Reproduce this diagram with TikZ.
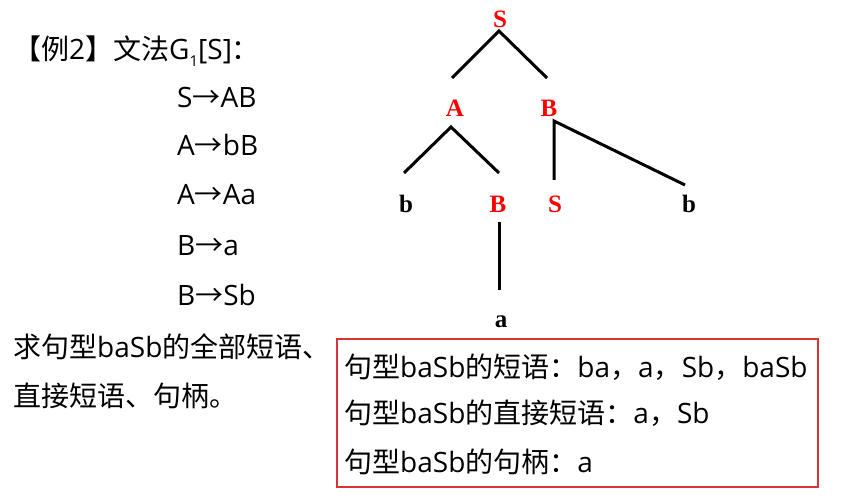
\documentclass[tikz,border=0pt]{standalone}
\usepackage{fontspec}
\newfontfamily\cjk{Noto Sans CJK SC}
\newfontfamily\latn{Open Sans}
\newfontfamily\treefont{Liberation Serif}
\newcommand{\lt}[1]{{\latn #1}}
\definecolor{boxred}{RGB}{220,50,50}
\begin{document}
\begin{tikzpicture}[x=1pt,y=-1pt,
  txt/.style={anchor=base west,inner sep=0pt,font=\cjk\fontsize{28}{32}\selectfont},
  nt/.style={inner sep=0pt,font=\treefont\bfseries\fontsize{25}{28}\selectfont,text=red},
  tm/.style={inner sep=0pt,font=\treefont\bfseries\fontsize{25}{28}\selectfont,text=black},
  edge/.style={line width=3pt}]
\useasboundingbox (0,0) rectangle (850,502);
% left text
\node[txt] (title) at (13,60) {【例\lt{2}】文法\lt{G}\raisebox{-0.25em}{\latn\fontsize{15}{18}\selectfont 1}\lt{[S]}：};
\node[txt] (r1) at (177,108) {\lt{S}→\lt{AB}};
\node[txt] (r2) at (177,156) {\lt{A}→\lt{bB}};
\node[txt] (r3) at (177,205) {\lt{A}→\lt{Aa}};
\node[txt] (r4) at (177,255) {\lt{B}→\lt{a}};
\node[txt] (r5) at (177,305) {\lt{B}→\lt{Sb}};
\node[txt] (q1) at (13,357) {求句型\lt{baSb}的全部短语、};
\node[txt] (q2) at (13,406) {直接短语、句柄。};
% tree
\node[nt] (S) at (500,19) {S};
\node[nt] (A) at (455,108) {A};
\node[nt] (B1) at (549,108) {B};
\node[tm] (b1) at (406,204) {b};
\node[nt] (B2) at (498,204) {B};
\node[nt] (S2) at (555,204) {S};
\node[tm] (b2) at (689,204) {b};
\node[tm] (a) at (501,322) {a};
\coordinate (s0) at (499,31);
\coordinate (sA) at (452,78);
\coordinate (sB) at (547,78);
\coordinate (a0) at (451,127);
\coordinate (ab) at (404,173);
\coordinate (aB) at (499,173);
\coordinate (b0) at (554,121);
\coordinate (bS) at (554,180);
\coordinate (bb) at (685,185);
\coordinate (c0) at (499,222);
\coordinate (ca) at (499,290);
\draw[edge] (sA) -- (s0) -- (sB);
\draw[edge] (ab) -- (a0) -- (aB);
\draw[edge] (bS) -- (b0) -- (bb);
\draw[edge] (c0) -- (ca);
% answer box
\draw[boxred,line width=1.3pt] (337,339) rectangle (818,487);
\node[txt] (l1) at (344,377) {句型\lt{baSb}的短语：\lt{ba}，\lt{a}，\lt{Sb}，\lt{baSb}};
\node[txt] (l2) at (344,423) {句型\lt{baSb}的直接短语：\lt{a}，\lt{Sb}};
\node[txt] (l3) at (344,472) {句型\lt{baSb}的句柄：\lt{a}};
\end{tikzpicture}
\end{document}
